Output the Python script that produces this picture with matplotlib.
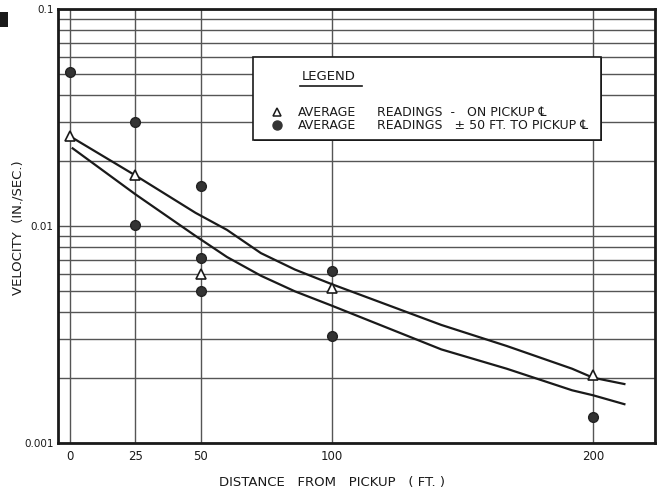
import matplotlib.pyplot as plt
from matplotlib.patches import Rectangle

# distance ticks (ft)
dist_ticks = [0, 25, 50, 100, 200]

# average readings on pickup centerline (triangles)
on_x = [0, 25, 50, 100, 200]
on_v = [0.026, 0.0172, 0.0060, 0.0052, 0.00205]

# average readings +-50 ft to pickup centerline (dots)
off_x = [0, 25, 25, 50, 50, 50, 100, 100, 200]
off_v = [0.051, 0.030, 0.0101, 0.0153, 0.0071, 0.0050, 0.0062, 0.0031, 0.00132]

# hand-drawn curves
upper_x = [0, 25, 48, 60, 73, 86, 100, 142, 167, 192, 200, 212]
upper_v = [0.0259, 0.0171, 0.0115, 0.0096, 0.0075, 0.0063, 0.0054, 0.0035, 0.0028, 0.0022, 0.0020, 0.00187]
lower_x = [1, 25, 48, 60, 73, 86, 100, 142, 167, 192, 200, 212]
lower_v = [0.0228, 0.0140, 0.0090, 0.0072, 0.0059, 0.0050, 0.0043, 0.0027, 0.0022, 0.00175, 0.00166, 0.00151]

ink = '#1a1a1a'
grid = '#555555'

fig = plt.figure(figsize=(6.6, 4.95), dpi=100)
ax = fig.add_axes([0.0879, 0.105, 0.9045, 0.8768])

ax.set_yscale('log')
ax.set_ylim(0.001, 0.1)
ax.set_xlim(-4.6, 223.7)

ax.set_xticks(dist_ticks)
ax.set_xticklabels([str(d) for d in dist_ticks])
ax.set_yticks([0.001, 0.01, 0.1])
ax.set_yticklabels(['0.001', '0.01', '0.1'])
ax.yaxis.set_minor_formatter(plt.NullFormatter())
ax.tick_params(which='both', length=0, labelsize=7.5, colors=ink)
ax.tick_params(axis='x', pad=5, labelsize=8.5)
ax.tick_params(axis='y', pad=3)

ax.grid(True, which='major', axis='both', color=grid, lw=1.0)
ax.grid(True, which='minor', axis='y', color=grid, lw=1.0)
ax.set_axisbelow(True)
for s in ax.spines.values():
    s.set_linewidth(2)
    s.set_color(ink)

ax.plot(upper_x, upper_v, color=ink, lw=1.6, zorder=3)
ax.plot(lower_x, lower_v, color=ink, lw=1.6, zorder=3)

ax.plot(off_x, off_v, 'o', ms=7, color='#333333', mec='#222222', zorder=4, clip_on=False)
ax.plot(on_x, on_v, '^', ms=7, mfc='white', mec=ink, mew=1.2, zorder=5, clip_on=False)

# legend box
tr = ax.transAxes
ax.add_patch(Rectangle((0.329, 0.695), 0.583, 0.192, transform=tr, facecolor=ink,
                       edgecolor='none', zorder=6))
ax.add_patch(Rectangle((0.327, 0.698), 0.583, 0.191, transform=tr, facecolor='white',
                       edgecolor=ink, lw=1.2, zorder=7))
ax.text(0.408, 0.845, 'LEGEND', transform=tr, fontsize=9.5, color=ink,
        va='center', ha='left', zorder=8)
ax.plot([0.405, 0.51], [0.822, 0.822], transform=tr, color=ink, lw=1.2, zorder=8)
ax.plot([0.367], [0.762], '^', transform=tr, ms=6, mfc='white', mec=ink, mew=1.1, zorder=8)
ax.plot([0.367], [0.732], 'o', transform=tr, ms=6.5, color='#333333', zorder=8)
ax.text(0.402, 0.762, 'AVERAGE', transform=tr, fontsize=9, color=ink, va='center', zorder=8)
ax.text(0.402, 0.732, 'AVERAGE', transform=tr, fontsize=9, color=ink, va='center', zorder=8)
ax.text(0.535, 0.762, 'READINGS  -   ON PICKUP \u2104', transform=tr, fontsize=9, color=ink,
        va='center', zorder=8)
ax.text(0.535, 0.732, 'READINGS   \u00b1 50 FT. TO PICKUP \u2104', transform=tr, fontsize=9,
        color=ink, va='center', zorder=8)

fig.text(0.027, 0.54, 'VELOCITY  (IN./SEC.)', rotation=90, fontsize=9.5, color=ink,
         ha='center', va='center')
fig.text(0.503, 0.026, 'DISTANCE   FROM   PICKUP   ( FT. )', fontsize=9.5, color=ink,
         ha='center', va='center')

# scan mark at the top-left corner
fig.patches.append(Rectangle((0.0, 0.945), 0.012, 0.03, transform=fig.transFigure,
                             facecolor=ink, edgecolor='none'))

fig.savefig('out.png', dpi=100)
